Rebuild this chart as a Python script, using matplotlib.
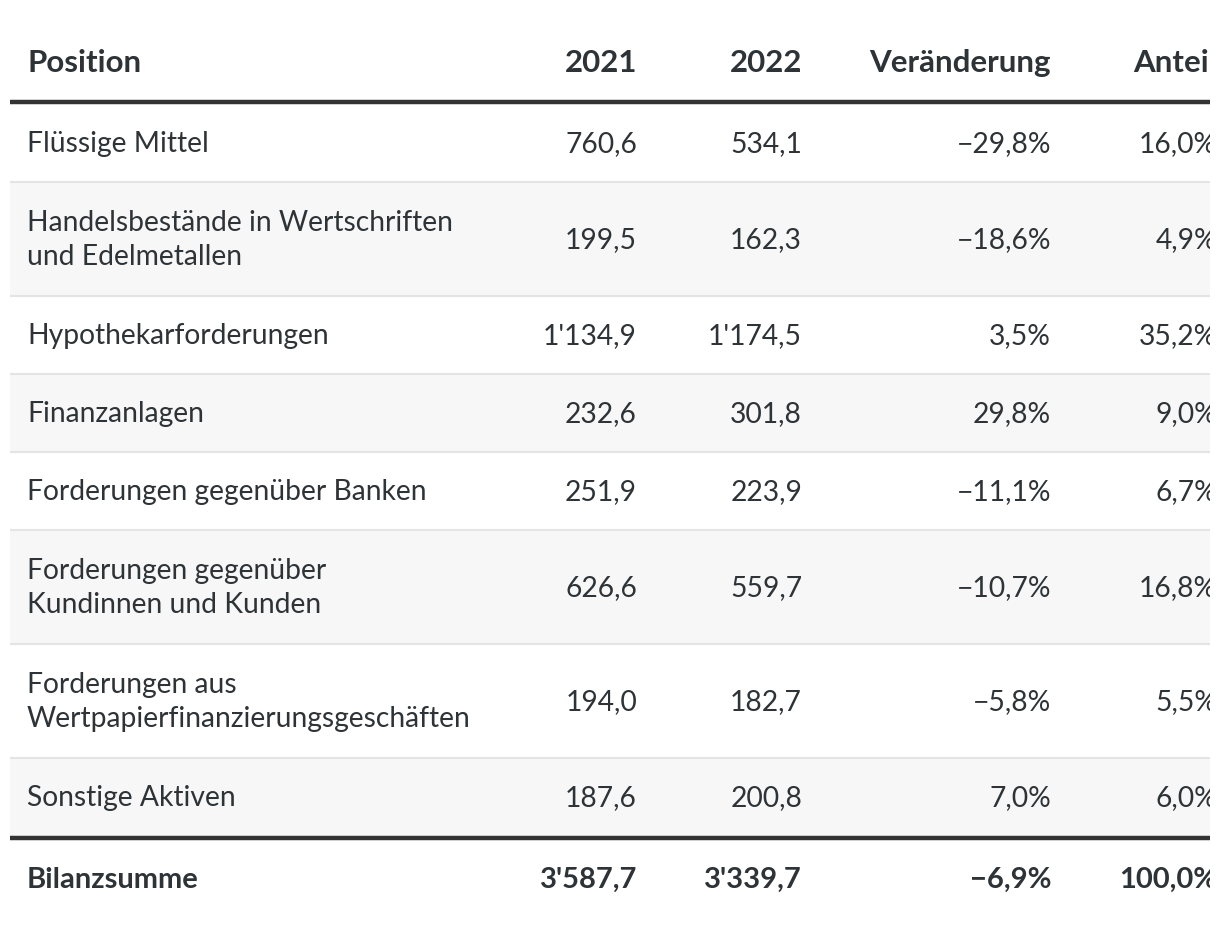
"""
Bilanz-Tabelle (Aktiven) als Grafik
"""
import matplotlib.pyplot as plt
from matplotlib.patches import Rectangle

plt.rcParams['font.family'] = ['Lato', 'DejaVu Sans']

# Daten
headers = ['Position', '2021', '2022', 'Veränderung', 'Anteil']
positions = [
    'Flüssige Mittel',
    'Handelsbestände in Wertschriften\nund Edelmetallen',
    'Hypothekarforderungen',
    'Finanzanlagen',
    'Forderungen gegenüber Banken',
    'Forderungen gegenüber\nKundinnen und Kunden',
    'Forderungen aus\nWertpapierfinanzierungsgeschäften',
    'Sonstige Aktiven',
]
values_2021 = [760.6, 199.5, 1134.9, 232.6, 251.9, 626.6, 194.0, 187.6]
values_2022 = [534.1, 162.3, 1174.5, 301.8, 223.9, 559.7, 182.7, 200.8]
change_pct = [-29.8, -18.6, 3.5, 29.8, -11.1, -10.7, -5.8, 7.0]
share_pct = [16.0, 4.9, 35.2, 9.0, 6.7, 16.8, 5.5, 6.0]
total_label = 'Bilanzsumme'
total_2021 = 3587.7
total_2022 = 3339.7
total_change = -6.9
total_share = 100.0


def fmt_num(v):
    s = f'{abs(v):,.1f}'.replace(',', "'").replace('.', ',')
    return ('\u2212' if v < 0 else '') + s


def fmt_pct(v):
    return fmt_num(v) + '%'


TEXT = '#2e3337'
GREY_BG = '#f7f7f7'
SEP = '#e4e4e4'
FS = 20.3
FS_HEAD = 22.5
FS_TOTAL = 21.0

fig = plt.figure(figsize=(12.2, 9.28), dpi=100)
ax = fig.add_axes([10 / 1220, 0, 1200 / 1220, 1])
ax.set_xlim(10, 1210)
ax.set_ylim(928, 0)
ax.axis('off')

left_x = 27
col_right = [637, 802, 1051, 1217]

# Kopfzeile
ax.text(left_x, 63, headers[0], ha='left', va='center', fontsize=FS_HEAD,
        fontweight='bold', color=TEXT)
for h, x in zip(headers[1:], col_right):
    ax.text(x, 63, h, ha='right', va='center', fontsize=FS_HEAD,
            fontweight='bold', color=TEXT, clip_on=True)
ax.plot([10, 1210], [103, 103], color='#333333', lw=3.2, solid_capstyle='butt')

# Zeilen
y = 105
for i, pos in enumerate(positions):
    n_lines = pos.count('\n') + 1
    h = 78 + 36 * (n_lines - 1)
    if i % 2 == 1:
        ax.add_patch(Rectangle((10, y), 1200, h, facecolor=GREY_BG, edgecolor='none'))
    yc = y + h / 2
    ax.text(left_x, yc, pos, ha='left', va='center', fontsize=FS,
            color=TEXT, linespacing=1.36)
    cells = [fmt_num(values_2021[i]), fmt_num(values_2022[i]),
             fmt_pct(change_pct[i]), fmt_pct(share_pct[i])]
    for c, x in zip(cells, col_right):
        ax.text(x, yc, c, ha='right', va='center', fontsize=FS,
                color=TEXT, clip_on=True)
    y += h
    if i < len(positions) - 1:
        ax.plot([10, 1210], [y, y], color=SEP, lw=1.5, solid_capstyle='butt')

ax.plot([10, 1210], [y + 2, y + 2], color='#333333', lw=3.2, solid_capstyle='butt')

# Summenzeile
yt = y + 43
ax.text(left_x, yt, total_label, ha='left', va='center', fontsize=FS_TOTAL,
        fontweight='bold', color=TEXT)
totals = [fmt_num(total_2021), fmt_num(total_2022),
          fmt_pct(total_change), fmt_pct(total_share)]
for c, x in zip(totals, col_right):
    ax.text(x, yt, c, ha='right', va='center', fontsize=FS_TOTAL,
            fontweight='bold', color=TEXT, clip_on=True)

fig.savefig('out.png', dpi=100, facecolor='white')
